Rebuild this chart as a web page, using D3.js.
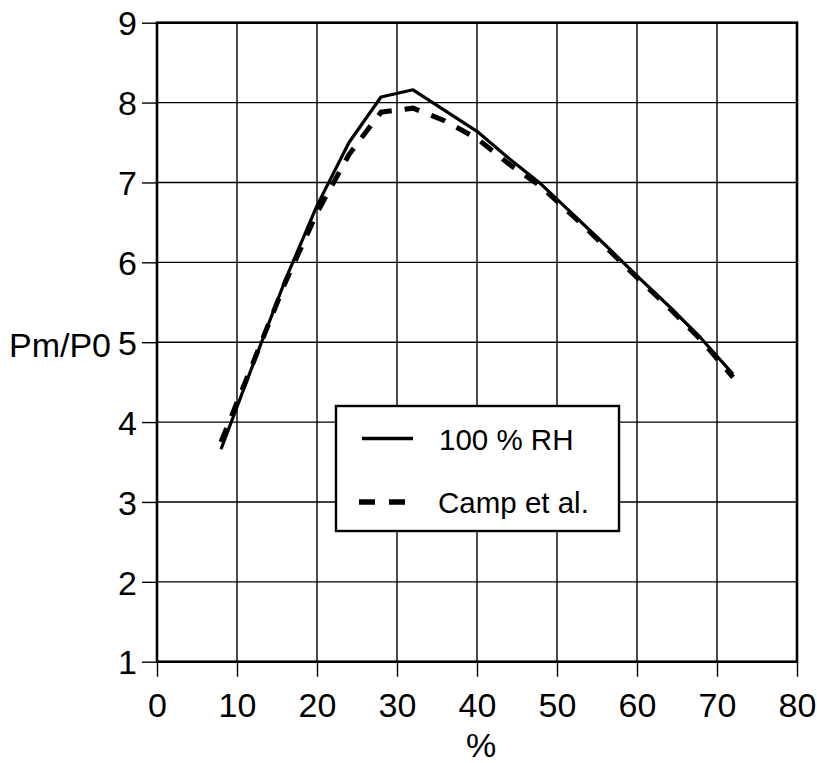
<!DOCTYPE html>
<html>
<head>
<meta charset="utf-8">
<script src="https://cdn.jsdelivr.net/npm/d3@7/dist/d3.min.js"></script>
<style>
  html, body { margin: 0; padding: 0; background: #fff; }
  svg { display: block; font-family: "Liberation Sans", Arial, sans-serif; }
</style>
</head>
<body>
<svg id="chart" width="817" height="763"></svg>
<script>
// Moisture content (%) sampled every 4 %
const moisture = [8, 12, 16, 20, 24, 28, 32, 36, 40, 44, 48, 52, 56, 60, 64, 68, 72];
// Pm/P0 ratio, 100 % relative humidity
const rh100 = [3.66, 4.72, 5.77, 6.71, 7.50, 8.07, 8.16, 7.90, 7.64, 7.30, 6.98, 6.60, 6.22, 5.83, 5.45, 5.05, 4.60];
// Pm/P0 ratio after Camp et al.
const camp = [3.75, 4.74, 5.74, 6.62, 7.35, 7.88, 7.93, 7.77, 7.55, 7.23, 6.95, 6.58, 6.20, 5.81, 5.43, 5.03, 4.56];

const seriesNames = ["100 % RH", "Camp et al."];
const xTicks = [0, 10, 20, 30, 40, 50, 60, 70, 80];
const yTicks = [1, 2, 3, 4, 5, 6, 7, 8, 9];
const xTitle = "%";
const yTitle = "Pm/P0";

const svg = d3.select("#chart");
const plotLeft = 157, plotRight = 797, plotTop = 22.7, plotBottom = 661.7;

const x = d3.scaleLinear().domain([0, 80]).range([plotLeft, plotRight]);
const y = d3.scaleLinear().domain([1, 9]).range([plotBottom, plotTop]);

// grid
const grid = svg.append("g").attr("stroke", "#000").attr("stroke-width", 1.4);
grid.selectAll("line.gx").data(xTicks.slice(1, -1)).join("line")
  .attr("class", "gx")
  .attr("x1", d => x(d)).attr("x2", d => x(d))
  .attr("y1", plotTop).attr("y2", plotBottom);
grid.selectAll("line.gy").data(yTicks.slice(1, -1)).join("line")
  .attr("class", "gy")
  .attr("x1", plotLeft).attr("x2", plotRight)
  .attr("y1", d => y(d)).attr("y2", d => y(d));

// axes
const fontSize = 34;
const xAxis = svg.append("g").attr("transform", `translate(0,${plotBottom})`)
  .call(d3.axisBottom(x).tickValues(xTicks).tickSizeInner(15).tickSizeOuter(0));
xAxis.select(".domain").remove();
xAxis.selectAll(".tick line").attr("stroke", "#000").attr("stroke-width", 1.4);
xAxis.selectAll(".tick text")
  .attr("y", 55).attr("dy", null)
  .attr("font-size", fontSize).attr("font-family", "Liberation Sans, Arial, sans-serif")
  .attr("fill", "#000");

const yAxis = svg.append("g").attr("transform", `translate(${plotLeft},0)`)
  .call(d3.axisLeft(y).tickValues(yTicks).tickSizeInner(15).tickSizeOuter(0));
yAxis.select(".domain").remove();
yAxis.selectAll(".tick line").attr("stroke", "#000").attr("stroke-width", 1.4);
yAxis.selectAll(".tick text")
  .attr("x", -20).attr("dy", "0.36em")
  .attr("font-size", fontSize).attr("font-family", "Liberation Sans, Arial, sans-serif")
  .attr("fill", "#000");

// frame
svg.append("rect")
  .attr("x", plotLeft).attr("y", plotTop)
  .attr("width", plotRight - plotLeft).attr("height", plotBottom - plotTop)
  .attr("fill", "none").attr("stroke", "#000").attr("stroke-width", 2.6);

// titles
svg.append("text").attr("x", 481).attr("y", 757)
  .attr("text-anchor", "middle").attr("font-size", fontSize).text(xTitle);
svg.append("text").attr("x", 9).attr("y", 357)
  .attr("font-size", fontSize).text(yTitle);

// curves
const line = d3.line().x((d, i) => x(moisture[i])).y(d => y(d));
svg.append("path").datum(camp)
  .attr("d", line).attr("fill", "none").attr("stroke", "#000")
  .attr("stroke-width", 5).attr("stroke-dasharray", "15 13");
svg.append("path").datum(rh100)
  .attr("d", line).attr("fill", "none").attr("stroke", "#000")
  .attr("stroke-width", 3.2).attr("stroke-linejoin", "round");

// legend
const lg = svg.append("g");
lg.append("rect").attr("x", 336).attr("y", 406).attr("width", 283).attr("height", 125)
  .attr("fill", "#fff").attr("stroke", "#000").attr("stroke-width", 2.4);
lg.append("line").attr("x1", 362).attr("x2", 413).attr("y1", 438.5).attr("y2", 438.5)
  .attr("stroke", "#000").attr("stroke-width", 3.5);
lg.append("line").attr("x1", 359).attr("x2", 405).attr("y1", 502).attr("y2", 502)
  .attr("stroke", "#000").attr("stroke-width", 5.5).attr("stroke-dasharray", "16 14");
lg.append("text").attr("x", 439).attr("y", 450).attr("font-size", 29.5).text(seriesNames[0]);
lg.append("text").attr("x", 438).attr("y", 513).attr("font-size", 29.5).text(seriesNames[1]);
</script>
</body>
</html>
